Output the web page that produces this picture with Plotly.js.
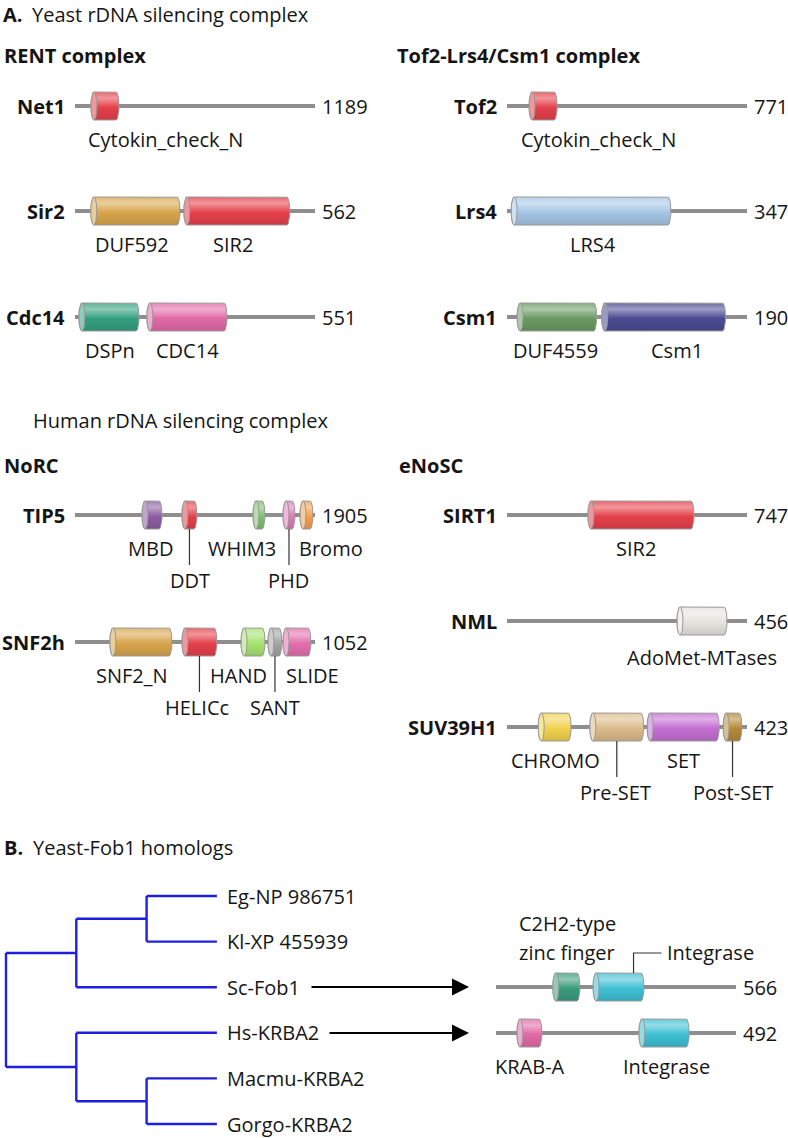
<!DOCTYPE html>
<html><head><meta charset="utf-8">
<script src="https://cdn.plot.ly/plotly-3.0.1.min.js"></script>
<style>html,body{margin:0;padding:0;background:#fff}#chart{width:788px;height:1138px}</style>
</head><body><div id="chart"></div>
<script>
// ================= DATA =================
const proteinNames   = ['Net1','Sir2','Cdc14','Tof2','Lrs4','Csm1','TIP5','SNF2h','SIRT1','NML','SUV39H1','Sc-Fob1','Hs-KRBA2'];
const proteinLengths = [1189, 562, 551, 771, 347, 190, 1905, 1052, 747, 456, 423, 566, 492];

const domainProtein = ['Net1','Sir2','Sir2','Cdc14','Cdc14','Tof2','Lrs4','Csm1','Csm1',
  'TIP5','TIP5','TIP5','TIP5','TIP5','SNF2h','SNF2h','SNF2h','SNF2h','SNF2h',
  'SIRT1','NML','SUV39H1','SUV39H1','SUV39H1','SUV39H1','Sc-Fob1','Sc-Fob1','Hs-KRBA2','Hs-KRBA2'];
const domainNames = ['Cytokin_check_N','DUF592','SIR2','DSPn','CDC14','Cytokin_check_N','LRS4','DUF4559','Csm1',
  'MBD','DDT','WHIM3','PHD','Bromo','SNF2_N','HELICc','HAND','SANT','SLIDE',
  'SIR2','AdoMet-MTases','CHROMO','Pre-SET','SET','Post-SET','C2H2-type zinc finger','Integrase','KRAB-A','Integrase'];
const domainStart = [79, 37, 255, 9, 165, 71, 6, 8, 75,
  532, 849, 1413, 1651, 1786, 153, 469, 728, 846, 912,
  252, 323, 55, 146, 247, 381, 134, 229, 43, 293];
const domainEnd   = [218, 246, 503, 147, 349, 161, 237, 71, 173,
  691, 968, 1508, 1746, 1889, 425, 622, 833, 907, 1034,
  582, 418, 113, 241, 374, 414, 198, 349, 94, 396];

const treeLeaves = ['Eg-NP 986751','Kl-XP 455939','Sc-Fob1','Hs-KRBA2','Macmu-KRBA2','Gorgo-KRBA2'];
const treeTopology = [[['Eg-NP 986751','Kl-XP 455939'],'Sc-Fob1'],['Hs-KRBA2',['Macmu-KRBA2','Gorgo-KRBA2']]];
const arrowLinks = ['Sc-Fob1','Hs-KRBA2'];

// ================= LAYOUT / STYLE =================
const FONT = '"Open Sans", "Noto Sans", sans-serif';
const FS = 20;
const TXT = '#151515';
const panelX = {L:[75,315], R:[507,747], B:[496,736]};
const proteinPanel = ['L','L','L','R','R','R','L','L','R','R','R','B','B'];
const proteinRowY  = [106,211,317,106,211,317,515,642,515,621,727,987,1033];
const labelDx    = [61,-3,-4,1,1,55,2,-1,13, -2,1,-17,0,24, -9,-2,-15,0,16, -5,0, 1,-1,0,0, 1,15, 1,2];
const labelLevel = [1,1,1,1,1,1,1,1,1, 1,2,1,2,1, 1,2,1,2,1, 1,1.1, 1,2,1,2, 'above','elbow', 1,1];
const domainColor = {
  'Cytokin_check_N':'#e5414b','SIR2':'#e5414b','DDT':'#e5414b','HELICc':'#e5414b',
  'DUF592':'#d8a54c','SNF2_N':'#d8a54c','DSPn':'#34a07f','C2H2-type zinc finger':'#3a9c7a',
  'CDC14':'#e26aa6','KRAB-A':'#e26aa6','PHD':'#e07ab8','SLIDE':'#e46fae',
  'LRS4':'#a6c6e6','DUF4559':'#6a9a62','Csm1':'#4a4b92','MBD':'#8c5ea2','WHIM3':'#7cc06c',
  'Bromo':'#f3a04e','HAND':'#a6e26f','SANT':'#a2a2a2','AdoMet-MTases':'#e6e4de',
  'CHROMO':'#f1d24e','Pre-SET':'#dcbb8b','SET':'#c46fd2','Post-SET':'#b48a38','Integrase':'#3ec0d4'
};
const DOM_H = 28, RX = 3;

function mix(hex, t){
  const n = parseInt(hex.slice(1),16);
  let c = [(n>>16)&255,(n>>8)&255,n&255];
  c = c.map(v => Math.round(t>0 ? v+(255-v)*t : v*(1+t)));
  return 'rgb('+c.join(',')+')';
}

const traces = [];
const annotations = [];
function txt(x,y,text,anchor,extra){
  annotations.push(Object.assign({x:x,y:y,xref:'x',yref:'y',text:text,showarrow:false,
    xanchor:anchor,yanchor:'middle',font:{family:FONT,size:FS,color:TXT}},extra||{}));
}

// backbones
const bbX=[], bbY=[];
const scaleFor = {};
proteinNames.forEach((p,i)=>{
  const [x0,x1] = panelX[proteinPanel[i]];
  const y = proteinRowY[i];
  bbX.push(x0,x1,null); bbY.push(y,y,null);
  scaleFor[p] = aa => x0 + aa/proteinLengths[i]*(x1-x0);
  if(proteinPanel[i] !== 'B') txt(x0-8, y, '<b>'+p+'</b>', 'right');
  txt(x1+5, y, String(proteinLengths[i]), 'left');
});
traces.push({x:bbX,y:bbY,mode:'lines',line:{color:'#8e8e8e',width:4},hoverinfo:'skip'});

// domains + leaders
const ldX=[], ldY=[];
domainNames.forEach((d,k)=>{
  const p = domainProtein[k];
  const i = proteinNames.indexOf(p);
  const sc = scaleFor[p];
  const x0 = sc(domainStart[k]), x1 = sc(domainEnd[k]);
  const yc = proteinRowY[i], ry = DOM_H/2, top = yc-ry, bot = yc+ry;
  const c = domainColor[d];
  const px=[], py=[];
  px.push(x0+RX); py.push(top);
  px.push(x1-RX); py.push(top);
  for(let a=-90;a<=90;a+=10){ const r=a*Math.PI/180; px.push(x1-RX+RX*Math.cos(r)); py.push(yc+ry*Math.sin(r)); }
  px.push(x0+RX); py.push(bot);
  for(let a=90;a<=270;a+=10){ const r=a*Math.PI/180; px.push(x0+RX+RX*Math.cos(r)); py.push(yc+ry*Math.sin(r)); }
  traces.push({x:px,y:py,mode:'lines',fill:'toself',line:{color:'#999999',width:1},
    fillgradient:{type:'vertical',start:top,stop:bot,
      colorscale:[[0,mix(c,0.2)],[0.22,mix(c,0.45)],[0.55,c],[1,mix(c,-0.12)]]},hoverinfo:'skip'});
  const ex=[], ey=[];
  for(let a=0;a<=360;a+=10){ const r=a*Math.PI/180; ex.push(x0+RX+RX*Math.cos(r)); ey.push(yc+ry*Math.sin(r)); }
  traces.push({x:ex,y:ey,mode:'lines',fill:'toself',fillcolor:mix(c,0.45),line:{color:'#999999',width:1},hoverinfo:'skip'});

  const cx = (x0+x1)/2 + labelDx[k];
  const lv = labelLevel[k];
  if(lv === 1 || lv === 1.1){
    txt(cx, yc + (lv===1?33:36), d, 'center');
  } else if(lv === 2){
    const lx = (x0+x1)/2;
    ldX.push(lx,lx,null); ldY.push(bot, yc+50, null);
    txt(cx, yc+65, d, 'center');
  } else if(lv === 'above'){
    const parts = d.split(' ');
    txt(cx, yc-64, parts[0], 'center');
    txt(cx, yc-35, parts.slice(1).join(' '), 'center');
  } else if(lv === 'elbow'){
    const lx = (x0+x1)/2 + labelDx[k];
    ldX.push(lx,lx,lx+28,null); ldY.push(top, yc-34, yc-34, null);
    txt(lx+31, yc-35, d, 'left');
  }
});
traces.push({x:ldX,y:ldY,mode:'lines',line:{color:'#333333',width:1.2},hoverinfo:'skip'});

// headings
txt(2,0,'<b>A.</b>','left',{yanchor:'top',borderpad:0});
txt(31,0,'Yeast rDNA silencing complex','left',{yanchor:'top',borderpad:0});
txt(2,55,'<b>RENT complex</b>','left');
txt(395,55,'<b>Tof2-Lrs4/Csm1 complex</b>','left');
txt(31,420,'Human rDNA silencing complex','left');
txt(2,465,'<b>NoRC</b>','left');
txt(397,465,'<b>eNoSC</b>','left');
txt(2,847,'<b>B.</b>','left'); txt(31,847,'Yeast-Fob1 homologs','left');

// tree
const LEAF_Y0 = 896, LEAF_DY = 45.6, TREE_X0 = 6, TREE_DX = 70.3, LEAF_DEPTH = 3;
const leafY = n => LEAF_Y0 + treeLeaves.indexOf(n)*LEAF_DY;
const tX=[], tY=[];
function drawNode(node, depth){
  if(typeof node === 'string') return {x: TREE_X0+LEAF_DEPTH*TREE_DX, y: leafY(node)};
  const nx = TREE_X0 + depth*TREE_DX;
  const kids = node.map(ch => drawNode(ch, depth+1));
  const ys = kids.map(k=>k.y);
  tX.push(nx,nx,null); tY.push(Math.min(...ys),Math.max(...ys),null);
  kids.forEach(k=>{ tX.push(nx,k.x,null); tY.push(k.y,k.y,null); });
  return {x:nx, y:(Math.min(...ys)+Math.max(...ys))/2};
}
drawNode(treeTopology, 0);
traces.push({x:tX,y:tY,mode:'lines',line:{color:'#1f1fe0',width:2.4},hoverinfo:'skip'});
treeLeaves.forEach(n => txt(TREE_X0+LEAF_DEPTH*TREE_DX+8, leafY(n), n, 'left'));

// arrows from tree leaves to protein rows
const arrowStartX = {'Sc-Fob1':310,'Hs-KRBA2':328};
arrowLinks.forEach(n=>{
  const y = proteinRowY[proteinNames.indexOf(n)];
  annotations.push({x:469,y:y,ax:arrowStartX[n],ay:y,xref:'x',yref:'y',axref:'x',ayref:'y',
    text:'',showarrow:true,arrowhead:2,arrowsize:1.7,arrowwidth:2,arrowcolor:'#000'});
});

const layout = {
  width:788,height:1138,margin:{l:0,r:0,t:0,b:0},
  paper_bgcolor:'#fff',plot_bgcolor:'#fff',showlegend:false,
  xaxis:{range:[0,788],visible:false,fixedrange:true},
  yaxis:{range:[1138,0],visible:false,fixedrange:true},
  annotations:annotations
};
Plotly.newPlot('chart',traces,layout,{displayModeBar:false,staticPlot:true});
</script></body></html>
